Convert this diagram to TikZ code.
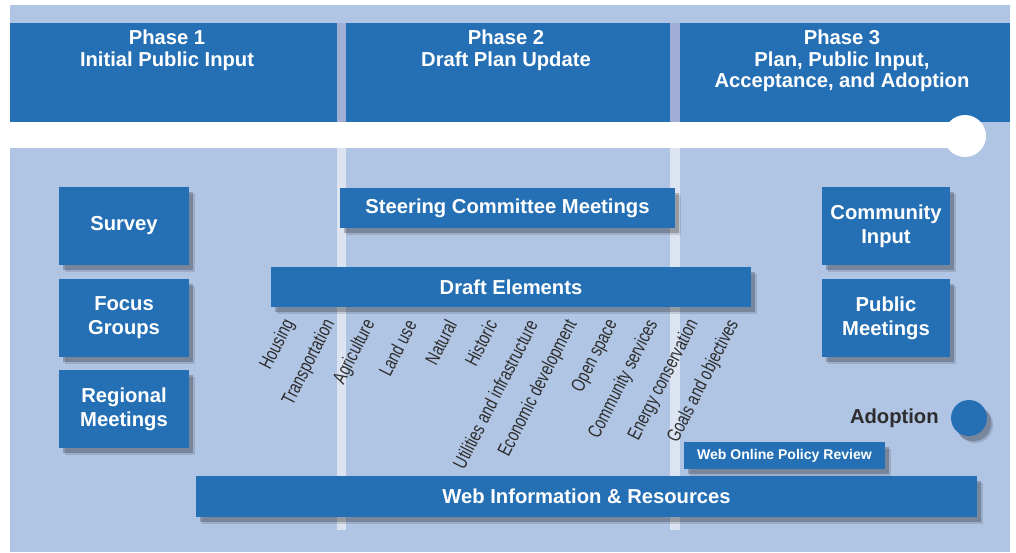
\documentclass[tikz,border=0pt]{standalone}
\usepackage{fontspec}
\setmainfont{Liberation Sans}
\newfontfamily\narrowfont[FakeStretch=0.75]{Liberation Sans}
\usetikzlibrary{shadows}

\definecolor{planblue}{RGB}{37,112,181}
\definecolor{planback}{RGB}{176,196,227}
\definecolor{plangap}{RGB}{160,174,214}
\definecolor{planstripe}{RGB}{221,228,241}
\definecolor{plantext}{RGB}{45,45,45}

\tikzset{
  phasetext/.style={text=white, anchor=north, align=center, inner sep=0pt,
    font=\bfseries\fontsize{11.5}{12.2}\selectfont},
  taskbox/.style={fill=planblue, text=white, inner sep=0pt, align=center,
    font=\bfseries\fontsize{11.5}{13.6}\selectfont,
    drop shadow={shadow xshift=3.5pt, shadow yshift=-4pt, fill=black, opacity=0.12},
    drop shadow={shadow xshift=2.5pt, shadow yshift=-3pt, fill=black, opacity=0.22}},
  elemlabel/.style={text=plantext, rotate=63, anchor=east, inner sep=0pt,
    font=\narrowfont\fontsize{11}{12}\selectfont},
}

\begin{document}
\begin{tikzpicture}[x=0.02cm, y=-0.02cm]
  \useasboundingbox (0,0) rectangle (1016,552);
  % background and column stripes
  \fill[planback] (10,5) rectangle (1010,552);
  \fill[plangap] (337,23) rectangle (346,122);
  \fill[plangap] (670,23) rectangle (680,122);
  \fill[planstripe] (337,148) rectangle (346,530);
  \fill[planstripe] (670,148) rectangle (680,530);

  % phase headers
  \begin{scope}[planblue]
  \fill (10,23) rectangle (337,122);
  \fill (346,23) rectangle (670,122);
  \fill (680,23) rectangle (1010,122);
  \end{scope}
  \node[phasetext] (phase1) at (167,30) {Phase 1\\Initial Public Input};
  \node[phasetext] (phase2) at (506,30) {Phase 2\\Draft Plan Update};
  \node[phasetext] (phase3) at (842,30) {Phase 3\\Plan, Public Input,\\Acceptance, and Adoption};

  % timeline
  \fill[white] (10,122) rectangle (965,148);
  \fill[white] (965,136) circle[radius=21];

  % phase 1
  \node[taskbox, minimum width=2.6cm, minimum height=1.56cm] (survey) at (124,226) {Survey};
  \node[taskbox, minimum width=2.6cm, minimum height=1.56cm] (focus) at (124,318) {Focus\\Groups};
  \node[taskbox, minimum width=2.6cm, minimum height=1.56cm] (regional) at (124,409) {Regional\\Meetings};

  % phase 2
  \node[taskbox, minimum width=6.7cm, minimum height=0.8cm] (steering) at (507.5,208) {Steering Committee Meetings};
  \node[taskbox, minimum width=9.6cm, minimum height=0.8cm] (draft) at (511,287) {Draft Elements};
  \foreach \lbl [count=\i from 0] in {Housing, Transportation, Agriculture, Land use,
      Natural, Historic, Utilities and infrastructure, Economic development,
      Open space, Community services, Energy conservation, Goals and objectives}
    \node[elemlabel] (elem\i) at ({290+40.4*\i},321) {\lbl};

  % phase 3
  \node[taskbox, minimum width=2.56cm, minimum height=1.56cm] (community) at (886,226) {Community\\Input};
  \node[taskbox, minimum width=2.56cm, minimum height=1.56cm] (public) at (886,318) {Public\\Meetings};
  \node[taskbox, circle, minimum size=0.72cm] (adoptdot) at (969,418) {};
  \node[text=plantext, anchor=east, inner sep=0pt,
    font=\bfseries\fontsize{11.5}{12}\selectfont] (adoption) at (939,418) {Adoption};

  % web
  \node[taskbox, minimum width=4.02cm, minimum height=0.54cm,
    font=\bfseries\fontsize{8}{9}\selectfont] (policy) at (784.5,455.5) {Web Online Policy Review};
  \node[taskbox, minimum width=15.62cm, minimum height=0.82cm] (webinfo) at (586.5,496.5) {Web Information \& Resources};
\end{tikzpicture}
\end{document}
